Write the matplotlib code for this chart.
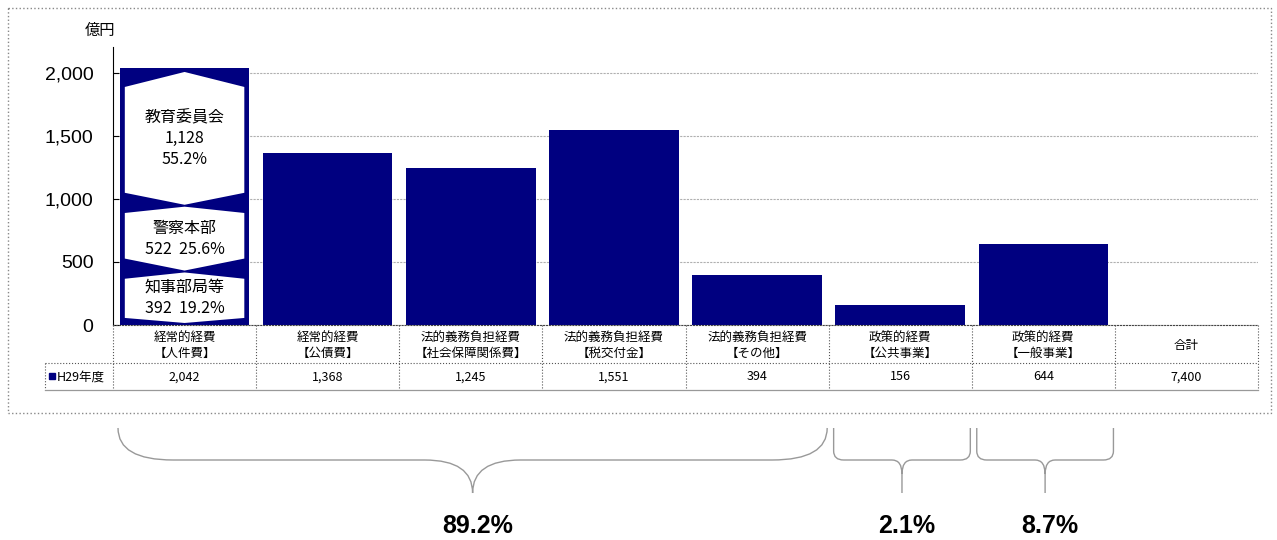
import matplotlib
matplotlib.use('Agg')
import matplotlib.pyplot as plt
from matplotlib.path import Path
from matplotlib.patches import PathPatch, Polygon, Rectangle

plt.rcParams['font.family'] = ['Noto Sans CJK JP', 'DejaVu Sans']

# data
cat_top = ['経常的経費', '経常的経費', '法的義務負担経費', '法的義務負担経費',
           '法的義務負担経費', '政策的経費', '政策的経費', '合計']
cat_sub = ['【人件費】', '【公債費】', '【社会保障関係費】', '【税交付金】',
           '【その他】', '【公共事業】', '【一般事業】', '']
values = [2042, 1368, 1245, 1551, 394, 156, 644]
total = 7400
series_name = 'H29年度'

# breakdown of the first bar (bottom to top)
part_names = ['知事部局等', '警察本部', '教育委員会']
part_values = [392, 522, 1128]
part_shares = ['19.2', '25.6', '55.2']

# brace groups (first and last category index)
groups = [(0, 4), (5, 5), (6, 6)]

navy = '#000080'
W, H = 1277, 540
fig = plt.figure(figsize=(W / 100, H / 100), dpi=100)
ax = fig.add_axes([113 / W, 1 - 325 / H, (1258 - 113) / W, (325 - 47) / H])
ax.patch.set_alpha(0)

xs = list(range(len(values)))
bw = 0.905
ax.bar(xs, values, width=bw, color=navy, zorder=2)
ax.set_xlim(-0.5, len(cat_top) - 0.5)
ax.set_ylim(0, 2206)
ax.set_yticks([0, 500, 1000, 1500, 2000])
ax.set_yticklabels(['0', '500', '1,000', '1,500', '2,000'],
                   family=['Liberation Sans', 'DejaVu Sans'], fontsize=14)
ax.set_xticks([])
ax.tick_params(axis='y', direction='in', length=4, pad=14)
ax.yaxis.grid(True, color='#b0b0b0', lw=0.8, ls=(0, (2, 1)))
ax.set_axisbelow(True)
for s in ['top', 'right']:
    ax.spines[s].set_visible(False)
ax.spines['bottom'].set_linestyle(':')
ax.spines['bottom'].set_color('#444')

# white hexagon labels in the first bar
bounds = [0]
for v in part_values:
    bounds.append(bounds[-1] + v)
inset = 0.035
xl, xr = -bw / 2 + inset, bw / 2 - inset
for i, (nm, v, sh) in enumerate(zip(part_names, part_values, part_shares)):
    lo, hi = bounds[i], bounds[i + 1]
    if i == 0:
        lo_pt, lo_cn = lo + 16, lo + 56
    else:
        lo_pt, lo_cn = lo + 40, lo + 135
    if i == len(part_values) - 1:
        hi_cn, hi_pt = hi - 153, hi - 34
    else:
        hi_cn, hi_pt = hi - 25, hi + 25
    poly = Polygon([(0, lo_pt), (xr, lo_cn), (xr, hi_cn), (0, hi_pt),
                    (xl, hi_cn), (xl, lo_cn)], closed=True,
                   facecolor='white', edgecolor='none', zorder=3)
    ax.add_patch(poly)
    if i == len(part_values) - 1:
        txt = f'{nm}\n{v:,}\n{sh}%'
    else:
        txt = f'{nm}\n{v:,}  {sh}%'
    ax.text(0, (lo_pt + hi_pt) / 2, txt, ha='center', va='center',
            fontsize=11.5, linespacing=1.3, zorder=4)

# overlay in pixel coordinates for the table, frame and braces
ov = fig.add_axes([0, 0, 1, 1], zorder=5)
ov.set_xlim(0, W)
ov.set_ylim(H, 0)
ov.axis('off')
ov.patch.set_visible(False)

def px(xd):
    return ax.transData.transform((xd, 0))[0]

ov.text(100, 30, '億円', ha='center', va='center', fontsize=11)

# table
dot = dict(color='#555', lw=0.8, ls=':')
edges = [px(i - 0.5) for i in range(len(cat_top) + 1)]
for e in edges:
    ov.plot([e, e], [325, 390], **dot)
ov.plot([45, edges[-1]], [363, 363], **dot)
ov.plot([45, 45], [363, 390], **dot)
ov.plot([45, edges[-1]], [390, 390], color='#999', lw=0.9)
for i, (t, s) in enumerate(zip(cat_top, cat_sub)):
    lab = t + '\n' + s if s else t
    ov.text(px(i), 345.5, lab, ha='center', va='center', fontsize=9,
            linespacing=1.2)
for i, v in enumerate(values + [total]):
    ov.text(px(i), 377, f'{v:,}', ha='center', va='center', fontsize=9)
ov.add_patch(Rectangle((49, 373), 6, 6, color=navy))
ov.text(57, 377, series_name, ha='left', va='center', fontsize=9)

# outer dotted frame
ov.add_patch(Rectangle((8, 8), 1263, 405, fill=False, ec='#888', lw=1, ls=':'))

# braces
def brace(x0, x1, ytop, ymid, ybot, rx, ry, rt, rty):
    xc = (x0 + x1) / 2
    verts = [(x0, ytop), (x0, ymid - ry), (x0, ymid), (x0 + rx, ymid),
             (xc - rt, ymid), (xc, ymid), (xc, ymid + rty), (xc, ybot),
             (xc, ymid + rty), (xc, ymid), (xc + rt, ymid),
             (x1 - rx, ymid), (x1, ymid), (x1, ymid - ry), (x1, ytop)]
    codes = [Path.MOVETO, Path.LINETO, Path.CURVE3, Path.CURVE3,
             Path.LINETO, Path.CURVE3, Path.CURVE3, Path.LINETO,
             Path.MOVETO, Path.CURVE3, Path.CURVE3,
             Path.LINETO, Path.CURVE3, Path.CURVE3, Path.LINETO]
    ov.add_patch(PathPatch(Path(verts, codes), fill=False, ec='#999', lw=1))
    return xc

for a, b in groups:
    x0 = px(a - 0.465)
    x1 = px(b + 0.49)
    share = sum(values[a:b + 1]) / total * 100
    if b > a:
        xc = brace(x0, x1, 428, 460, 493, 55, 32, 48, 33)
    else:
        xc = brace(x0, x1, 428, 460, 493, 10, 9, 10, 14)
    ov.text(xc + 5, 526, f'{share:.1f}%', ha='center', va='center',
            fontsize=18, fontweight='bold',
            family=['Liberation Sans', 'DejaVu Sans'])

fig.savefig('out.png', dpi=100)
